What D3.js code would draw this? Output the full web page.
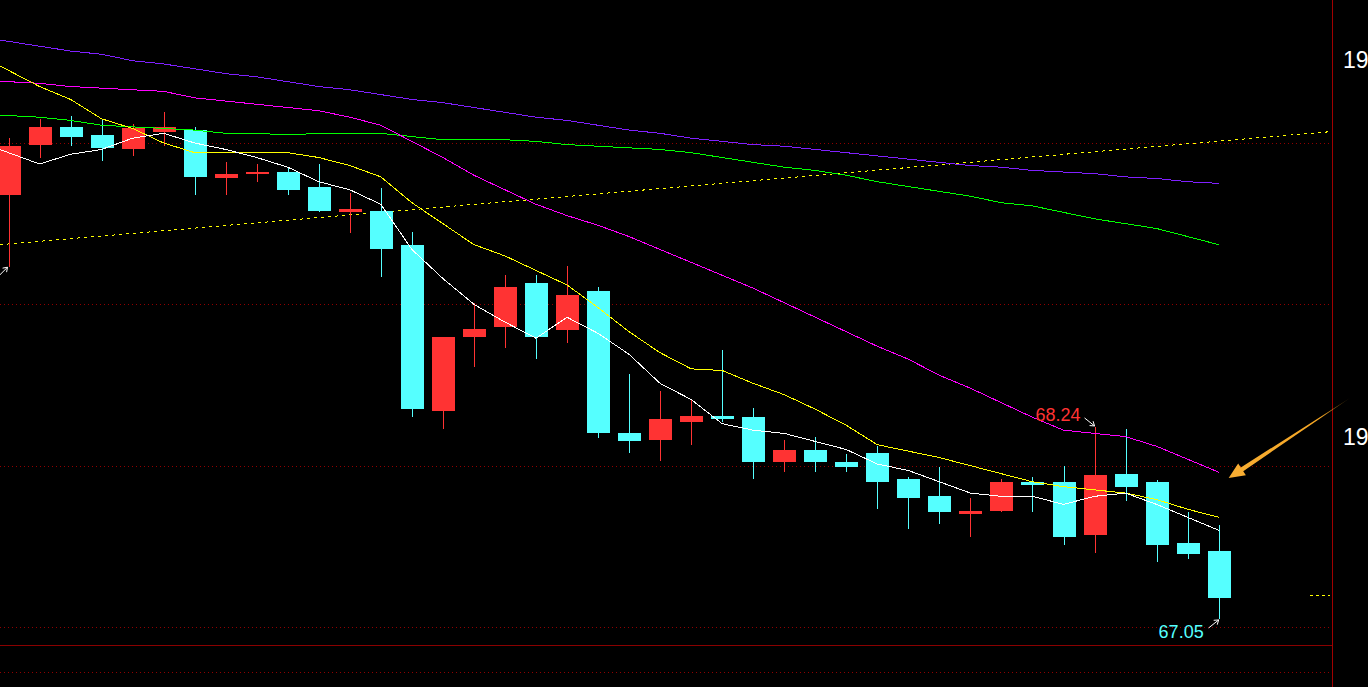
<!DOCTYPE html>
<html>
<head>
<meta charset="utf-8">
<script src="https://cdn.jsdelivr.net/npm/d3@7"></script>
<style>
  html, body { margin: 0; padding: 0; background: #000; overflow: hidden; }
  svg { display: block; }
</style>
</head>
<body>
<script>
var width = 1368,
    height = 687;

// K线数据 (40 根)
var opens  = [69.68,69.99,70.10,70.05,69.96,70.07,70.08,69.78,69.81,69.82,69.73,69.57,69.58,69.37,68.34,68.80,68.86,69.13,68.84,69.08,
              68.20,68.16,68.27,68.31,68.30,68.02,68.10,68.02,68.08,67.92,67.81,67.70,67.72,67.90,67.90,67.57,67.95,67.90,67.52,67.47];
var highs  = [70.03,70.15,70.17,70.14,70.12,70.19,70.10,69.88,69.87,69.85,69.87,69.69,69.72,69.45,68.80,69.01,69.18,69.18,69.24,69.11,
              68.57,68.46,68.41,68.72,68.36,68.16,68.18,68.07,68.12,67.93,67.99,67.80,67.92,67.93,68.00,68.24,68.23,67.91,67.71,67.63];
var lows   = [69.23,69.91,69.98,69.89,69.92,69.98,69.68,69.68,69.76,69.68,69.57,69.44,69.17,68.30,68.23,68.61,68.73,68.66,68.76,68.17,
              68.08,68.03,68.13,68.27,67.92,67.96,67.96,67.96,67.73,67.61,67.64,67.56,67.71,67.71,67.51,67.46,67.78,67.40,67.42,67.05];
var closes = [69.98,70.10,70.04,69.97,70.09,70.10,69.79,69.81,69.82,69.71,69.58,69.59,69.34,68.35,68.80,68.85,69.11,68.80,69.06,68.20,
              68.15,68.29,68.31,68.29,68.02,68.10,68.02,67.99,67.90,67.80,67.71,67.72,67.90,67.88,67.56,67.94,67.87,67.51,67.45,67.18];

// 均线
var ma5   = [69.94,69.87,69.93,69.96,70.03,70.06,70.00,69.96,69.91,69.85,69.76,69.71,69.62,69.34,69.16,69.00,68.89,68.79,68.92,68.82,
             68.69,68.51,68.41,68.26,68.22,68.20,68.15,68.10,68.01,67.97,67.90,67.83,67.81,67.81,67.76,67.81,67.83,67.76,67.68,67.60];
var ma10  = [70.45,70.35,70.27,70.15,70.09,70.00,69.94,69.94,69.94,69.94,69.91,69.86,69.79,69.63,69.50,69.37,69.30,69.21,69.12,68.98,
             68.83,68.70,68.60,68.59,68.51,68.44,68.35,68.25,68.13,68.09,68.05,68.00,67.95,67.90,67.87,67.85,67.83,67.79,67.73,67.68];
var ma20  = [70.38,70.37,70.35,70.34,70.33,70.32,70.28,70.26,70.24,70.22,70.20,70.16,70.11,70.01,69.91,69.80,69.71,69.62,69.55,69.49,
             69.42,69.34,69.26,69.18,69.10,69.01,68.92,68.83,68.74,68.66,68.56,68.48,68.39,68.30,68.22,68.20,68.18,68.12,68.04,67.96];
var ma60  = [70.17,70.16,70.14,70.11,70.10,70.09,70.08,70.06,70.06,70.05,70.06,70.06,70.06,70.04,70.02,70.02,70.02,70.01,69.99,69.98,
             69.97,69.96,69.94,69.91,69.88,69.85,69.83,69.80,69.76,69.73,69.70,69.67,69.63,69.61,69.57,69.53,69.50,69.47,69.42,69.37];
var ma120 = [70.63,70.60,70.57,70.55,70.51,70.49,70.46,70.43,70.41,70.38,70.35,70.33,70.30,70.27,70.25,70.22,70.19,70.16,70.14,70.11,
             70.08,70.06,70.03,70.01,69.99,69.98,69.96,69.94,69.92,69.90,69.88,69.86,69.85,69.83,69.82,69.81,69.79,69.78,69.76,69.75];

// 趋势线 (点线)
var trendIdx = [-0.27, 42.59];
var trendVal = [69.37, 70.07];

var gridLevels = [67, 68, 69, 70];
var lastMark = 67.20;
var axisLabels = ['19', '19'];
var hiMarkIdx = 35, loMarkIdx = 39;

var svg = d3.select('body').append('svg')
  .attr('width', width)
  .attr('height', height)
  .style('background', '#000');

var x = d3.scaleLinear().domain([0, 39]).range([8.5, 8.5 + 31.03 * 39]);
var y = d3.scaleLinear().domain([67, 70]).range([627, 143]);
var bodyW = 23;
var rightEdge = 1332;

// 网格线
svg.selectAll('line.grid')
  .data(gridLevels)
  .enter()
  .append('line')
  .attr('x1', 0).attr('x2', rightEdge - 2)
  .attr('y1', function(d) { return Math.round(y(d)) + 0.5; })
  .attr('y2', function(d) { return Math.round(y(d)) + 0.5; })
  .attr('stroke', '#900000')
  .attr('stroke-dasharray', '1,3');

// 下方副图分隔
svg.append('line')
  .attr('x1', 0).attr('x2', rightEdge).attr('y1', 645.5).attr('y2', 645.5)
  .attr('stroke', '#8a0000');
svg.append('line')
  .attr('x1', 0).attr('x2', rightEdge - 2).attr('y1', 672.5).attr('y2', 672.5)
  .attr('stroke', '#900000').attr('stroke-dasharray', '1,3');
svg.append('line')
  .attr('x1', rightEdge + 0.5).attr('x2', rightEdge + 0.5).attr('y1', 0).attr('y2', height)
  .attr('stroke', '#a00000');

// 右侧刻度
svg.selectAll('text.axis')
  .data(axisLabels)
  .enter()
  .append('text')
  .attr('x', 1343)
  .attr('y', function(d, i) { return i === 0 ? 68 : 445; })
  .text(function(d) { return d; })
  .attr('font-family', 'Liberation Sans, Arial, sans-serif')
  .attr('font-size', '23px')
  .attr('fill', '#ffffff');

// 趋势点线
svg.append('line')
  .attr('x1', x(trendIdx[0])).attr('y1', y(trendVal[0]))
  .attr('x2', x(trendIdx[1])).attr('y2', y(trendVal[1]))
  .attr('stroke', '#ffff00')
  .attr('stroke-dasharray', '3,4')
  .attr('shape-rendering', 'crispEdges');

// 最新价标记
svg.append('line')
  .attr('x1', 1310).attr('x2', 1330)
  .attr('y1', Math.round(y(lastMark)) + 0.5).attr('y2', Math.round(y(lastMark)) + 0.5)
  .attr('stroke', '#ffff00')
  .attr('stroke-dasharray', '3,3');

// 均线 (首段向左延伸到画布边缘)
var line = d3.line()
  .x(function(d) { return d[0]; })
  .y(function(d) { return d[1]; });

function maPoints(arr) {
  var pts = arr.map(function(v, i) { return [x(i), y(v)]; });
  var k = (pts[1][1] - pts[0][1]) / (pts[1][0] - pts[0][0]);
  pts.unshift([0, pts[0][1] - k * pts[0][0]]);
  return pts;
}

var maSeries = [
  { data: ma120, color: '#8020ff' },
  { data: ma60,  color: '#00ff00' },
  { data: ma20,  color: '#ff00ff' },
  { data: ma10,  color: '#ffff00' },
  { data: ma5,   color: '#ffffff' }
];

// K线
var candles = d3.range(opens.length).map(function(i) {
  return { i: i, o: opens[i], h: highs[i], l: lows[i], c: closes[i] };
});

var g = svg.append('g').attr('shape-rendering', 'crispEdges');

g.selectAll('line.wick')
  .data(candles)
  .enter()
  .append('line')
  .attr('x1', function(d) { return Math.round(x(d.i)) + 0.5; })
  .attr('x2', function(d) { return Math.round(x(d.i)) + 0.5; })
  .attr('y1', function(d) { return y(d.h); })
  .attr('y2', function(d) { return y(d.l); })
  .attr('stroke', function(d) { return d.c >= d.o ? '#ff3333' : '#55ffff'; });

g.selectAll('rect')
  .data(candles)
  .enter()
  .append('rect')
  .attr('x', function(d) { return Math.round(x(d.i)) - 11; })
  .attr('width', bodyW)
  .attr('y', function(d) { return y(Math.max(d.o, d.c)); })
  .attr('height', function(d) { return Math.max(2, Math.abs(y(d.o) - y(d.c))); })
  .attr('fill', function(d) { return d.c >= d.o ? '#ff3333' : '#55ffff'; });

svg.selectAll('path.ma')
  .data(maSeries)
  .enter()
  .append('path')
  .attr('d', function(d) { return line(maPoints(d.data)); })
  .attr('fill', 'none')
  .attr('stroke', function(d) { return d.color; })
  .attr('stroke-width', 1)
  .attr('shape-rendering', 'crispEdges');

// 标注箭头
function smallArrow(x1, y1, x2, y2) {
  var a = Math.atan2(y2 - y1, x2 - x1), L = 5;
  var p = 'M' + x1 + ',' + y1 + 'L' + x2 + ',' + y2 +
    'M' + (x2 - L * Math.cos(a - 0.6)) + ',' + (y2 - L * Math.sin(a - 0.6)) + 'L' + x2 + ',' + y2 +
    'L' + (x2 - L * Math.cos(a + 0.6)) + ',' + (y2 - L * Math.sin(a + 0.6));
  svg.append('path').attr('d', p).attr('fill', 'none')
    .attr('stroke', '#ffffff').attr('stroke-width', 1);
}

var hx = x(hiMarkIdx), hy = y(highs[hiMarkIdx]);
smallArrow(hx - 10, hy - 9, hx, hy - 1);
svg.append('text')
  .attr('x', hx - 14).attr('y', hy - 6)
  .attr('text-anchor', 'end')
  .attr('font-family', 'Liberation Sans, Arial, sans-serif')
  .attr('font-size', '18px')
  .attr('fill', '#ff3333')
  .text(highs[hiMarkIdx].toFixed(2));

var lx = x(loMarkIdx), ly = y(lows[loMarkIdx]);
smallArrow(lx - 10, ly + 9, lx, ly + 1);
svg.append('text')
  .attr('x', lx - 15).attr('y', ly + 19)
  .attr('text-anchor', 'end')
  .attr('font-family', 'Liberation Sans, Arial, sans-serif')
  .attr('font-size', '18px')
  .attr('fill', '#55ffff')
  .text(lows[loMarkIdx].toFixed(2));

// 左侧首根低点箭头
smallArrow(x(0) - 9, y(lows[0]) + 8, x(0) - 1, y(lows[0]));

// 橙色大箭头
var tipX = x(39) + 10, tipY = y(ma20[39]) + 6;
var tailX = 1350, tailY = 398;
var defs = svg.append('defs');
var grad = defs.append('linearGradient').attr('id', 'og')
  .attr('gradientUnits', 'userSpaceOnUse')
  .attr('x1', tailX).attr('y1', tailY).attr('x2', tipX).attr('y2', tipY);
grad.append('stop').attr('offset', '0%').attr('stop-color', '#f5a623').attr('stop-opacity', 0.2);
grad.append('stop').attr('offset', '25%').attr('stop-color', '#f5a623').attr('stop-opacity', 1);
grad.append('stop').attr('offset', '100%').attr('stop-color', '#f8ae34').attr('stop-opacity', 1);

var ang = Math.atan2(tipY - tailY, tipX - tailX);
var nx = -Math.sin(ang), ny = Math.cos(ang);
var headLen = 16, headW = 7, shaftW = 2.2;
var bx = tipX - headLen * Math.cos(ang), by = tipY - headLen * Math.sin(ang);
var pts = [
  [tailX, tailY],
  [bx + nx * shaftW, by + ny * shaftW],
  [bx + nx * headW, by + ny * headW],
  [tipX, tipY],
  [bx - nx * headW, by - ny * headW],
  [bx - nx * shaftW, by - ny * shaftW]
];
svg.append('path')
  .attr('d', 'M' + pts.map(function(p) { return p.join(','); }).join('L') + 'Z')
  .attr('fill', 'url(#og)');
</script>
</body>
</html>
